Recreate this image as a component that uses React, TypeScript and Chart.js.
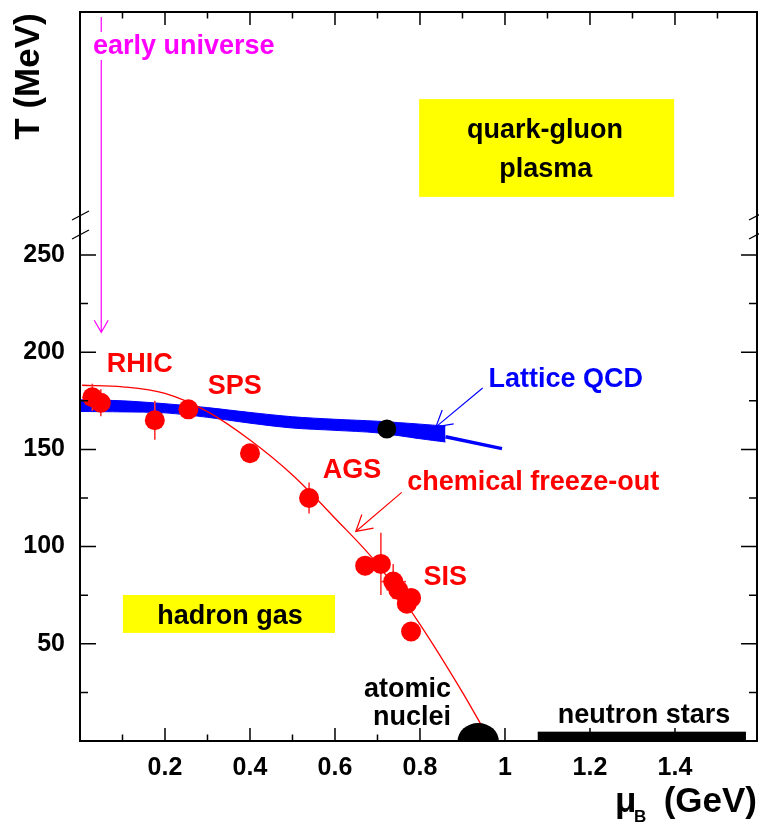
import React, { useEffect, useRef } from "react";
import { Chart, registerables } from "chart.js";

Chart.register(...registerables);

const FONT = '"Liberation Sans", Arial, Helvetica, sans-serif';

// ---- axes ----
const X_MIN = 0;
const X_MAX = 1.593;
const Y_MIN = 0;
const Y_MAX = 375;
const xTickValues = [0.2, 0.4, 0.6, 0.8, 1.0, 1.2, 1.4];
const yTickValues = [50, 100, 150, 200, 250];
const yBreakValues = [260.5, 270.3];

// ---- measured freeze-out points (mu_B in GeV, T in MeV) ----
const pointMu = [0.029, 0.049, 0.176, 0.255, 0.4, 0.539, 0.671, 0.708, 0.737, 0.749, 0.769, 0.779, 0.779];
const pointT = [176.8, 174, 165, 170.6, 148, 125, 90.2, 91.1, 82, 77.7, 70.6, 73.6, 56.3];
const pointErrT = [7, 7, 10, 0, 0, 8, 5, 16, 9, 6, 4, 4, 0];
const pointErrMu = [0, 0, 0, 0, 0, 0, 0, 0, 0.03, 0.028, 0, 0.021, 0];

// ---- chemical freeze-out curve ----
const curveMu = [0.005, 0.1, 0.2, 0.3, 0.4, 0.5, 0.6, 0.7, 0.8, 0.9, 0.95];
const curveT = [183, 182.2, 178.8, 169.4, 154.8, 136.8, 114.6, 91, 60, 25, 6];

// ---- lattice QCD band ----
const latticeMu = [0, 0.1, 0.2, 0.3, 0.4, 0.5, 0.6, 0.7, 0.8, 0.86];
const latticeUpper = [175.5, 175, 173.5, 171.5, 169, 166.8, 165.5, 164.5, 163, 162];
const latticeLower = [169.5, 169.3, 168.8, 166.5, 163.5, 161, 159.8, 158.5, 155.5, 153.8];
const latticeTailMu = [0.86, 0.993];
const latticeTailT = [156.5, 150.4];

// ---- critical point ----
const criticalMu = [0.722];
const criticalT = [160.5];

// ---- regions ----
const nucleusMu = 0.937;
const nucleusHalfWidthMu = 0.0485;
const nucleusHeightT = 9.2;
const neutronStarMu = [1.077, 1.567];
const neutronStarT = [0, 4.8];

// ---- annotations (data coordinates) ----
const yellowBoxes = [
  { mu0: 0.798, mu1: 1.398, t0: 279.9, t1: 330.2 },
  { mu0: 0.101, mu1: 0.6, t0: 55.6, t1: 75.1 },
];
const labels = [
  { text: "early universe", mu: 0.0306, t: 353.4, color: "#ff00ff", align: "left", gap: true },
  { text: "quark-gluon", mu: 1.094, t: 310, color: "#000000", align: "center" },
  { text: "plasma", mu: 1.096, t: 290.3, color: "#000000", align: "center" },
  { text: "hadron gas", mu: 0.353, t: 60, color: "#000000", align: "center" },
  { text: "RHIC", mu: 0.0628, t: 190, color: "#ff0000", align: "left" },
  { text: "SPS", mu: 0.3005, t: 178.5, color: "#ff0000", align: "left" },
  { text: "AGS", mu: 0.571, t: 135.1, color: "#ff0000", align: "left" },
  { text: "chemical freeze-out", mu: 0.77, t: 129.1, color: "#ff0000", align: "left" },
  { text: "SIS", mu: 0.808, t: 80.2, color: "#ff0000", align: "left" },
  { text: "Lattice QCD", mu: 0.961, t: 181.9, color: "#0000ff", align: "left" },
  { text: "atomic", mu: 0.873, t: 22.5, color: "#000000", align: "right" },
  { text: "nuclei", mu: 0.873, t: 8.2, color: "#000000", align: "right" },
  { text: "neutron stars", mu: 1.327, t: 9.1, color: "#000000", align: "center" },
];
const arrows = [
  { mu0: 0.9475, t0: 181.6, mu1: 0.8376, t1: 161.6, color: "#0000ff", head: 18 },
  { mu0: 0.757, t0: 127.9, mu1: 0.649, t1: 107.8, color: "#ff0000", head: 18 },
  { mu0: 0.05, t0: 372.4, mu1: 0.05, t1: 210.2, color: "#ff00ff", head: 14 },
];

function drawArrow(ctx: CanvasRenderingContext2D, x1: number, y1: number, x2: number, y2: number, color: string, head: number) {
  ctx.save();
  ctx.strokeStyle = color;
  ctx.lineWidth = 1.2;
  ctx.beginPath();
  ctx.moveTo(x1, y1);
  ctx.lineTo(x2, y2);
  ctx.stroke();
  const ang = Math.atan2(y1 - y2, x1 - x2);
  const a = Math.PI / 6;
  ctx.beginPath();
  ctx.moveTo(x2 + head * Math.cos(ang + a), y2 + head * Math.sin(ang + a));
  ctx.lineTo(x2, y2);
  ctx.lineTo(x2 + head * Math.cos(ang - a), y2 + head * Math.sin(ang - a));
  ctx.stroke();
  ctx.restore();
}

const POINTS_INDEX = 0;

const decorPlugin = {
  id: "decor",
  beforeDatasetsDraw(chart: any) {
    const ctx = chart.ctx as CanvasRenderingContext2D;
    const xs = chart.scales.x;
    const ys = chart.scales.y;
    ctx.save();
    ctx.fillStyle = "#ffff00";
    for (const b of yellowBoxes) {
      const x0 = xs.getPixelForValue(b.mu0);
      const x1 = xs.getPixelForValue(b.mu1);
      const y0 = ys.getPixelForValue(b.t1);
      const y1 = ys.getPixelForValue(b.t0);
      ctx.fillRect(x0, y0, x1 - x0, y1 - y0);
    }
    ctx.restore();
  },
  beforeDatasetDraw(chart: any, args: any) {
    if (args.index !== POINTS_INDEX) return;
    const ctx = chart.ctx as CanvasRenderingContext2D;
    const xs = chart.scales.x;
    const ys = chart.scales.y;
    ctx.save();
    ctx.strokeStyle = "#ff3333";
    ctx.lineWidth = 1.6;
    for (let i = 0; i < pointMu.length; i++) {
      const x = xs.getPixelForValue(pointMu[i]);
      const y = ys.getPixelForValue(pointT[i]);
      if (pointErrT[i] > 0) {
        ctx.beginPath();
        ctx.moveTo(x, ys.getPixelForValue(pointT[i] - pointErrT[i]));
        ctx.lineTo(x, ys.getPixelForValue(pointT[i] + pointErrT[i]));
        ctx.stroke();
      }
      if (pointErrMu[i] > 0) {
        ctx.beginPath();
        ctx.moveTo(xs.getPixelForValue(pointMu[i] - pointErrMu[i]), y);
        ctx.lineTo(xs.getPixelForValue(pointMu[i] + pointErrMu[i]), y);
        ctx.stroke();
      }
    }
    ctx.restore();
  },
  afterDatasetsDraw(chart: any) {
    const ctx = chart.ctx as CanvasRenderingContext2D;
    const xs = chart.scales.x;
    const ys = chart.scales.y;
    const { left, right, top, bottom } = chart.chartArea;
    ctx.save();
    // frame
    ctx.strokeStyle = "#000";
    ctx.lineWidth = 2;
    ctx.strokeRect(left, top, right - left, bottom - top);
    ctx.lineWidth = 1.5;
    for (let k = 1; k * 0.1 < X_MAX; k++) {
      const v = k * 0.1;
      const len = k % 2 === 0 ? 13 : 6.5;
      const x = xs.getPixelForValue(v);
      ctx.beginPath();
      ctx.moveTo(x, bottom);
      ctx.lineTo(x, bottom - len);
      ctx.moveTo(x, top);
      ctx.lineTo(x, top + len);
      ctx.stroke();
    }
    for (let t = 25; t <= 250; t += 25) {
      const len = t % 50 === 0 ? 16 : 8;
      const y = ys.getPixelForValue(t);
      ctx.beginPath();
      ctx.moveTo(left, y);
      ctx.lineTo(left + len, y);
      ctx.moveTo(right, y);
      ctx.lineTo(right - len, y);
      ctx.stroke();
    }
    // axis break marks
    ctx.lineWidth = 1.2;
    for (const t of yBreakValues) {
      const y = ys.getPixelForValue(t);
      for (const ax of [left, right]) {
        ctx.beginPath();
        ctx.moveTo(ax - 8, y + 4.5);
        ctx.lineTo(ax + 9, y - 4.5);
        ctx.stroke();
      }
    }
    // atomic nuclei half-disc
    ctx.save();
    ctx.beginPath();
    ctx.rect(left, top, right - left, bottom - top);
    ctx.clip();
    const cx = xs.getPixelForValue(nucleusMu);
    const rx = xs.getPixelForValue(nucleusMu + nucleusHalfWidthMu) - cx;
    const cy = ys.getPixelForValue(0);
    const ry = cy - ys.getPixelForValue(nucleusHeightT);
    ctx.fillStyle = "#000";
    ctx.beginPath();
    ctx.ellipse(cx, cy, rx, ry, 0, 0, Math.PI * 2);
    ctx.fill();
    ctx.restore();
    // neutron stars bar
    const nx0 = xs.getPixelForValue(neutronStarMu[0]);
    const nx1 = xs.getPixelForValue(neutronStarMu[1]);
    const ny0 = ys.getPixelForValue(neutronStarT[1]);
    const ny1 = ys.getPixelForValue(neutronStarT[0]);
    ctx.fillStyle = "#000";
    ctx.fillRect(nx0, ny0, nx1 - nx0, ny1 - ny0);

    // arrows
    for (const a of arrows) {
      drawArrow(
        ctx,
        xs.getPixelForValue(a.mu0),
        ys.getPixelForValue(a.t0),
        xs.getPixelForValue(a.mu1),
        ys.getPixelForValue(a.t1),
        a.color,
        a.head
      );
    }
    // labels
    ctx.font = `bold 27px ${FONT}`;
    ctx.textBaseline = "alphabetic";
    for (const l of labels) {
      const x = xs.getPixelForValue(l.mu);
      const y = ys.getPixelForValue(l.t);
      ctx.textAlign = l.align as CanvasTextAlign;
      if (l.gap) {
        const w = ctx.measureText(l.text).width;
        ctx.fillStyle = "#fff";
        ctx.fillRect(x - 1, y - 22, w + 2, 28);
      }
      ctx.fillStyle = l.color;
      ctx.fillText(l.text, x, y);
    }
    // axis titles
    ctx.fillStyle = "#000";
    ctx.textAlign = "left";
    ctx.font = `bold 35px ${FONT}`;
    ctx.fillText("\u03bc", 615, 812);
    ctx.font = `bold 17px ${FONT}`;
    ctx.fillText("B", 634, 822);
    ctx.font = `bold 35px ${FONT}`;
    ctx.textAlign = "right";
    ctx.fillText("(GeV)", 757, 812);
    ctx.save();
    ctx.translate(39, 76.5);
    ctx.rotate(-Math.PI / 2);
    ctx.textAlign = "center";
    ctx.fillText("T (MeV)", 0, 0);
    ctx.restore();
    ctx.restore();
  },
};

const toXY = (xs: number[], ys: number[]) => xs.map((x, i) => ({ x, y: ys[i] }));

export default function App() {
  const canvasRef = useRef<HTMLCanvasElement | null>(null);

  useEffect(() => {
    if (!canvasRef.current) return;
    const tickFont = { family: FONT, size: 25, weight: "bold" as const };
    const chart = new Chart(canvasRef.current, {
      type: "line",
      data: {
        datasets: [
          {
            label: "freeze-out points",
            data: toXY(pointMu, pointT),
            showLine: false,
            pointRadius: 10,
            pointBackgroundColor: "#ff0000",
            pointBorderWidth: 0,
            borderColor: "#ff0000",
            order: 0,
          },
          {
            label: "critical point",
            data: toXY(criticalMu, criticalT),
            showLine: false,
            pointRadius: 9.5,
            pointBackgroundColor: "#000000",
            pointBorderWidth: 0,
            order: 1,
          },
          {
            label: "freeze-out curve",
            data: toXY(curveMu, curveT),
            borderColor: "#ff0000",
            borderWidth: 1.3,
            pointRadius: 0,
            cubicInterpolationMode: "monotone",
            fill: false,
            order: 2,
          },
          {
            label: "lattice tail",
            data: toXY(latticeTailMu, latticeTailT),
            borderColor: "#0000ff",
            borderWidth: 3.5,
            pointRadius: 0,
            fill: false,
            order: 3,
          },
          {
            label: "lattice upper",
            data: toXY(latticeMu, latticeUpper),
            borderColor: "#0000ff",
            backgroundColor: "#0000ff",
            borderWidth: 1,
            pointRadius: 0,
            tension: 0.3,
            fill: "+1",
            order: 4,
          },
          {
            label: "lattice lower",
            data: toXY(latticeMu, latticeLower),
            borderColor: "#0000ff",
            borderWidth: 1,
            pointRadius: 0,
            tension: 0.3,
            fill: false,
            order: 5,
          },
        ],
      },
      options: {
        responsive: false,
        animation: false,
        devicePixelRatio: 1,
        layout: { autoPadding: false, padding: { left: 0, right: 2, top: 12, bottom: 0 } },
        plugins: { legend: { display: false }, tooltip: { enabled: false } },
        scales: {
          x: {
            type: "linear",
            min: X_MIN,
            max: X_MAX,
            grid: { display: false, drawTicks: false, tickLength: 0 },
            border: { display: false },
            ticks: {
              font: tickFont,
              color: "#000",
              padding: 12,
              maxRotation: 0,
              autoSkip: false,
              callback: (v: any) => (Math.abs(v - 1) < 1e-9 ? "1" : Number(v).toFixed(1)),
            },
            afterBuildTicks: (s: any) => {
              s.ticks = xTickValues.map((value) => ({ value }));
            },
            afterFit: (s: any) => {
              s.height = 84;
              s.paddingLeft = 0;
              s.paddingRight = 0;
            },
          },
          y: {
            type: "linear",
            min: Y_MIN,
            max: Y_MAX,
            grid: { display: false, drawTicks: false, tickLength: 0 },
            border: { display: false },
            ticks: {
              font: tickFont,
              color: "#000",
              padding: 15,
              autoSkip: false,
            },
            afterBuildTicks: (s: any) => {
              s.ticks = yTickValues.map((value) => ({ value }));
            },
            afterFit: (s: any) => {
              s.width = 80;
              s.paddingTop = 0;
              s.paddingBottom = 0;
            },
          },
        },
      },
      plugins: [decorPlugin],
    });
    return () => chart.destroy();
  }, []);

  return (
    <div style={{ position: "absolute", left: 0, top: 0, width: 759, height: 825, background: "#fff" }}>
      <canvas ref={canvasRef} width={759} height={825} style={{ display: "block" }} />
    </div>
  );
}
